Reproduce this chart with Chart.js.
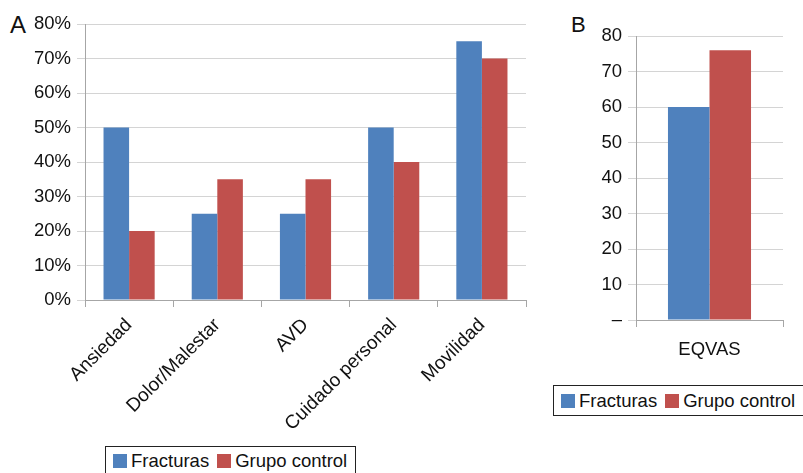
<!DOCTYPE html>
<html>
<head>
<meta charset="utf-8">
<script src="https://cdn.jsdelivr.net/npm/chart.js@4"></script>
<style>
    html, body { margin: 0; padding: 0; background: #fff; }
    body { width: 803px; height: 473px; position: relative; overflow: hidden; font-family: 'Liberation Sans', Arial, sans-serif; color: #111; }
    .panel { position: absolute; }
    .tag { position: absolute; line-height: 1; }
    .legend { position: absolute; border: 1px solid #222; box-sizing: border-box; display: flex; align-items: center; font-size: 18.5px; white-space: nowrap; }
    .legend .sw { display: inline-block; width: 14px; height: 14px; margin-right: 4px; }
    .legend .item { display: inline-flex; align-items: center; margin-right: 8px; }
</style>
</head>
<body>
<div class="tag" style="left:10px;top:13px;font-size:24px">A</div>
<div class="tag" style="left:571px;top:14px;font-size:22px">B</div>

<div class="panel" style="left:0;top:0;width:540px;height:445px"><canvas id="chart-a"></canvas></div>
<div class="panel" style="left:540px;top:0;width:263px;height:380px"><canvas id="chart-b"></canvas></div>

<div class="legend" id="legend-a" style="left:105px;top:446px;width:251px;height:32px;padding-left:7px;align-items:flex-start;padding-top:3px"></div>
<div class="legend" id="legend-b" style="left:553px;top:385px;width:260px;height:31px;padding-left:7px"></div>

<script>
// --- data ---
const categories = ['Ansiedad', 'Dolor/Malestar', 'AVD', 'Cuidado personal', 'Movilidad']
const fracturas = [50, 25, 25, 50, 75]
const grupoControl = [20, 35, 35, 40, 70]
const percentTicks = [0, 10, 20, 30, 40, 50, 60, 70, 80]

const vasCategories = ['EQVAS']
const vasFracturas = [60]
const vasControl = [76]
const vasTicks = [0, 10, 20, 30, 40, 50, 60, 70, 80]

const seriesNames = ['Fracturas', 'Grupo control']

// --- colors ---
const BLUE = '#4f81bd'
const RED = '#c0504d'
const GRID = '#d4d4d4'
const AXIS = '#a6a6a6'
const FONT = "'Liberation Sans', Arial, sans-serif"

function fixedWidth(w) { return s => { s.width = w } }
function fixedHeight(h) { return s => { s.height = h } }

function buildChart(id, opts) {
    return new Chart(document.getElementById(id), {
        type: 'bar',
        data: {
            labels: opts.labels,
            datasets: [
                { label: seriesNames[0], data: opts.a, backgroundColor: BLUE, borderWidth: 0 },
                { label: seriesNames[1], data: opts.b, backgroundColor: RED, borderWidth: 0 }
            ]
        },
        options: {
            responsive: true,
            maintainAspectRatio: false,
            animation: false,
            categoryPercentage: opts.catPct,
            barPercentage: 1,
            layout: { padding: opts.padding },
            plugins: { legend: { display: false }, tooltip: { enabled: false } },
            scales: {
                x: {
                    afterFit: fixedHeight(opts.xHeight),
                    grid: { display: true, drawOnChartArea: false, drawTicks: true, tickLength: 7, color: AXIS, offset: true },
                    border: { display: true, color: AXIS },
                    ticks: {
                        color: '#111', autoSkip: false, padding: opts.xPad,
                        minRotation: opts.rot, maxRotation: opts.rot,
                        font: { family: FONT, size: opts.xSize }
                    }
                },
                y: {
                    min: opts.yTicks[0],
                    max: opts.yTicks[opts.yTicks.length - 1],
                    afterFit: fixedWidth(opts.yWidth),
                    afterBuildTicks: s => { s.ticks = opts.yTicks.map(v => ({ value: v })) },
                    grid: { color: GRID, tickLength: 8, drawTicks: true },
                    border: { display: true, color: AXIS },
                    ticks: { color: '#111', padding: 6, font: { family: FONT, size: 18.5 }, callback: opts.yFmt }
                }
            }
        }
    })
}

buildChart('chart-a', {
    labels: categories, a: fracturas, b: grupoControl, yTicks: percentTicks,
    yFmt: v => v + '%', catPct: 0.58, rot: 45, xSize: 19, xPad: 7,
    padding: { top: 24, right: 14, left: 0, bottom: 0 }, yWidth: 85, xHeight: 145
})

buildChart('chart-b', {
    labels: vasCategories, a: vasFracturas, b: vasControl, yTicks: vasTicks,
    yFmt: v => v === 0 ? '\u2013' : v, catPct: 0.565, rot: 0, xSize: 18.5, xPad: 12,
    padding: { top: 36, right: 20, left: 0, bottom: 0 }, yWidth: 96, xHeight: 60
})

// --- legends ---
function renderLegend(id) {
    const el = document.getElementById(id)
    el.innerHTML = seriesNames.map((n, i) =>
        `<span class="item"><span class="sw" style="background:${i ? RED : BLUE}"></span>${n}</span>`
    ).join('')
}
renderLegend('legend-a')
renderLegend('legend-b')
</script>
</body>
</html>
